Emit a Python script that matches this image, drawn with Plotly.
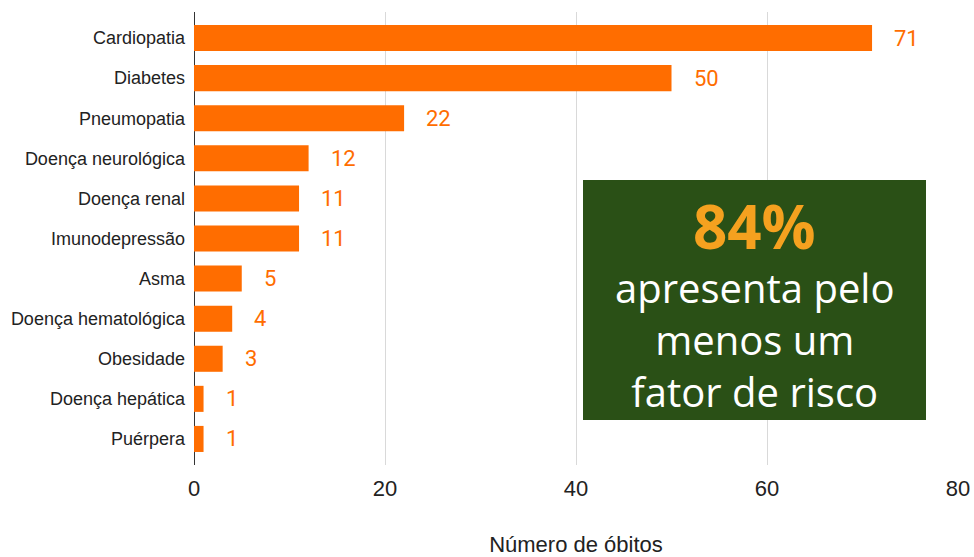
import plotly.graph_objects as go

categories = ["Cardiopatia", "Diabetes", "Pneumopatia", "Doença neurológica", "Doença renal",
              "Imunodepressão", "Asma", "Doença hematológica", "Obesidade", "Doença hepática", "Puérpera"]
values = [71, 50, 22, 12, 11, 11, 5, 4, 3, 1, 1]
x_ticks = [0, 20, 40, 60, 80]
box_lines = ["apresenta pelo", "menos um", "fator de risco"]
highlight = "84%"

ORANGE = "#ff6d00"
W, H = 974, 557
L, R, T, B = 194, 16, 12, 92
PW, PH = W - L - R, H - T - B

def px(xs):
    return (xs - L) / PW

def py(ys):
    return (H - B - ys) / PH

fig = go.Figure(go.Bar(
    x=values, y=categories, orientation="h",
    marker=dict(color=ORANGE, line=dict(width=0)),
    width=0.65, hoverinfo="skip",
))

for c, v in zip(categories, values):
    fig.add_annotation(x=v, y=c, xref="x", yref="y", text=str(v), showarrow=False,
                       xanchor="left", xshift=20,
                       font=dict(family="Roboto", size=22, color=ORANGE))

fig.add_shape(type="rect", xref="paper", yref="paper",
              x0=px(583), x1=px(926), y0=py(420), y1=py(180),
              fillcolor="#2a5016", line=dict(width=0), layer="above")

cx = px(754.5)
fig.add_annotation(x=cx, y=py(226), xref="paper", yref="paper", text="<b>%s</b>" % highlight,
                   showarrow=False, xanchor="center", yanchor="middle",
                   font=dict(family="Open Sans", size=60, color="#f5a11f"))
fig.add_annotation(x=cx, y=py(340), xref="paper", yref="paper", text="<br>".join(box_lines),
                   showarrow=False, xanchor="center", yanchor="middle", align="center",
                   font=dict(family="Open Sans", size=40, color="white"))

fig.update_layout(
    width=W, height=H, autosize=False, margin=dict(l=L, r=R, t=T, b=B, pad=0),
    paper_bgcolor="white", plot_bgcolor="white", showlegend=False,
    xaxis=dict(range=[0, 80], tickvals=x_ticks, showgrid=True, gridcolor="#d9d9d9", gridwidth=1,
               zeroline=True, zerolinecolor="#333333", zerolinewidth=1, automargin=False,
               tickfont=dict(family="Liberation Sans", size=22, color="#222222"),
               ticklabelstandoff=8,
               title=dict(text="Número de óbitos", standoff=40,
                          font=dict(family="Liberation Sans", size=22, color="#222222")),
               fixedrange=True),
    yaxis=dict(autorange=False, range=[10.65, -0.65], type="category", automargin=False,
               tickfont=dict(family="Liberation Sans", size=18, color="#222222"),
               ticks="", ticklabelstandoff=8, showgrid=False, fixedrange=True),
)

fig.write_html("out.html", config={"displayModeBar": False, "responsive": False},
               post_script="document.body.style.margin='0';document.body.style.overflow='hidden';")
